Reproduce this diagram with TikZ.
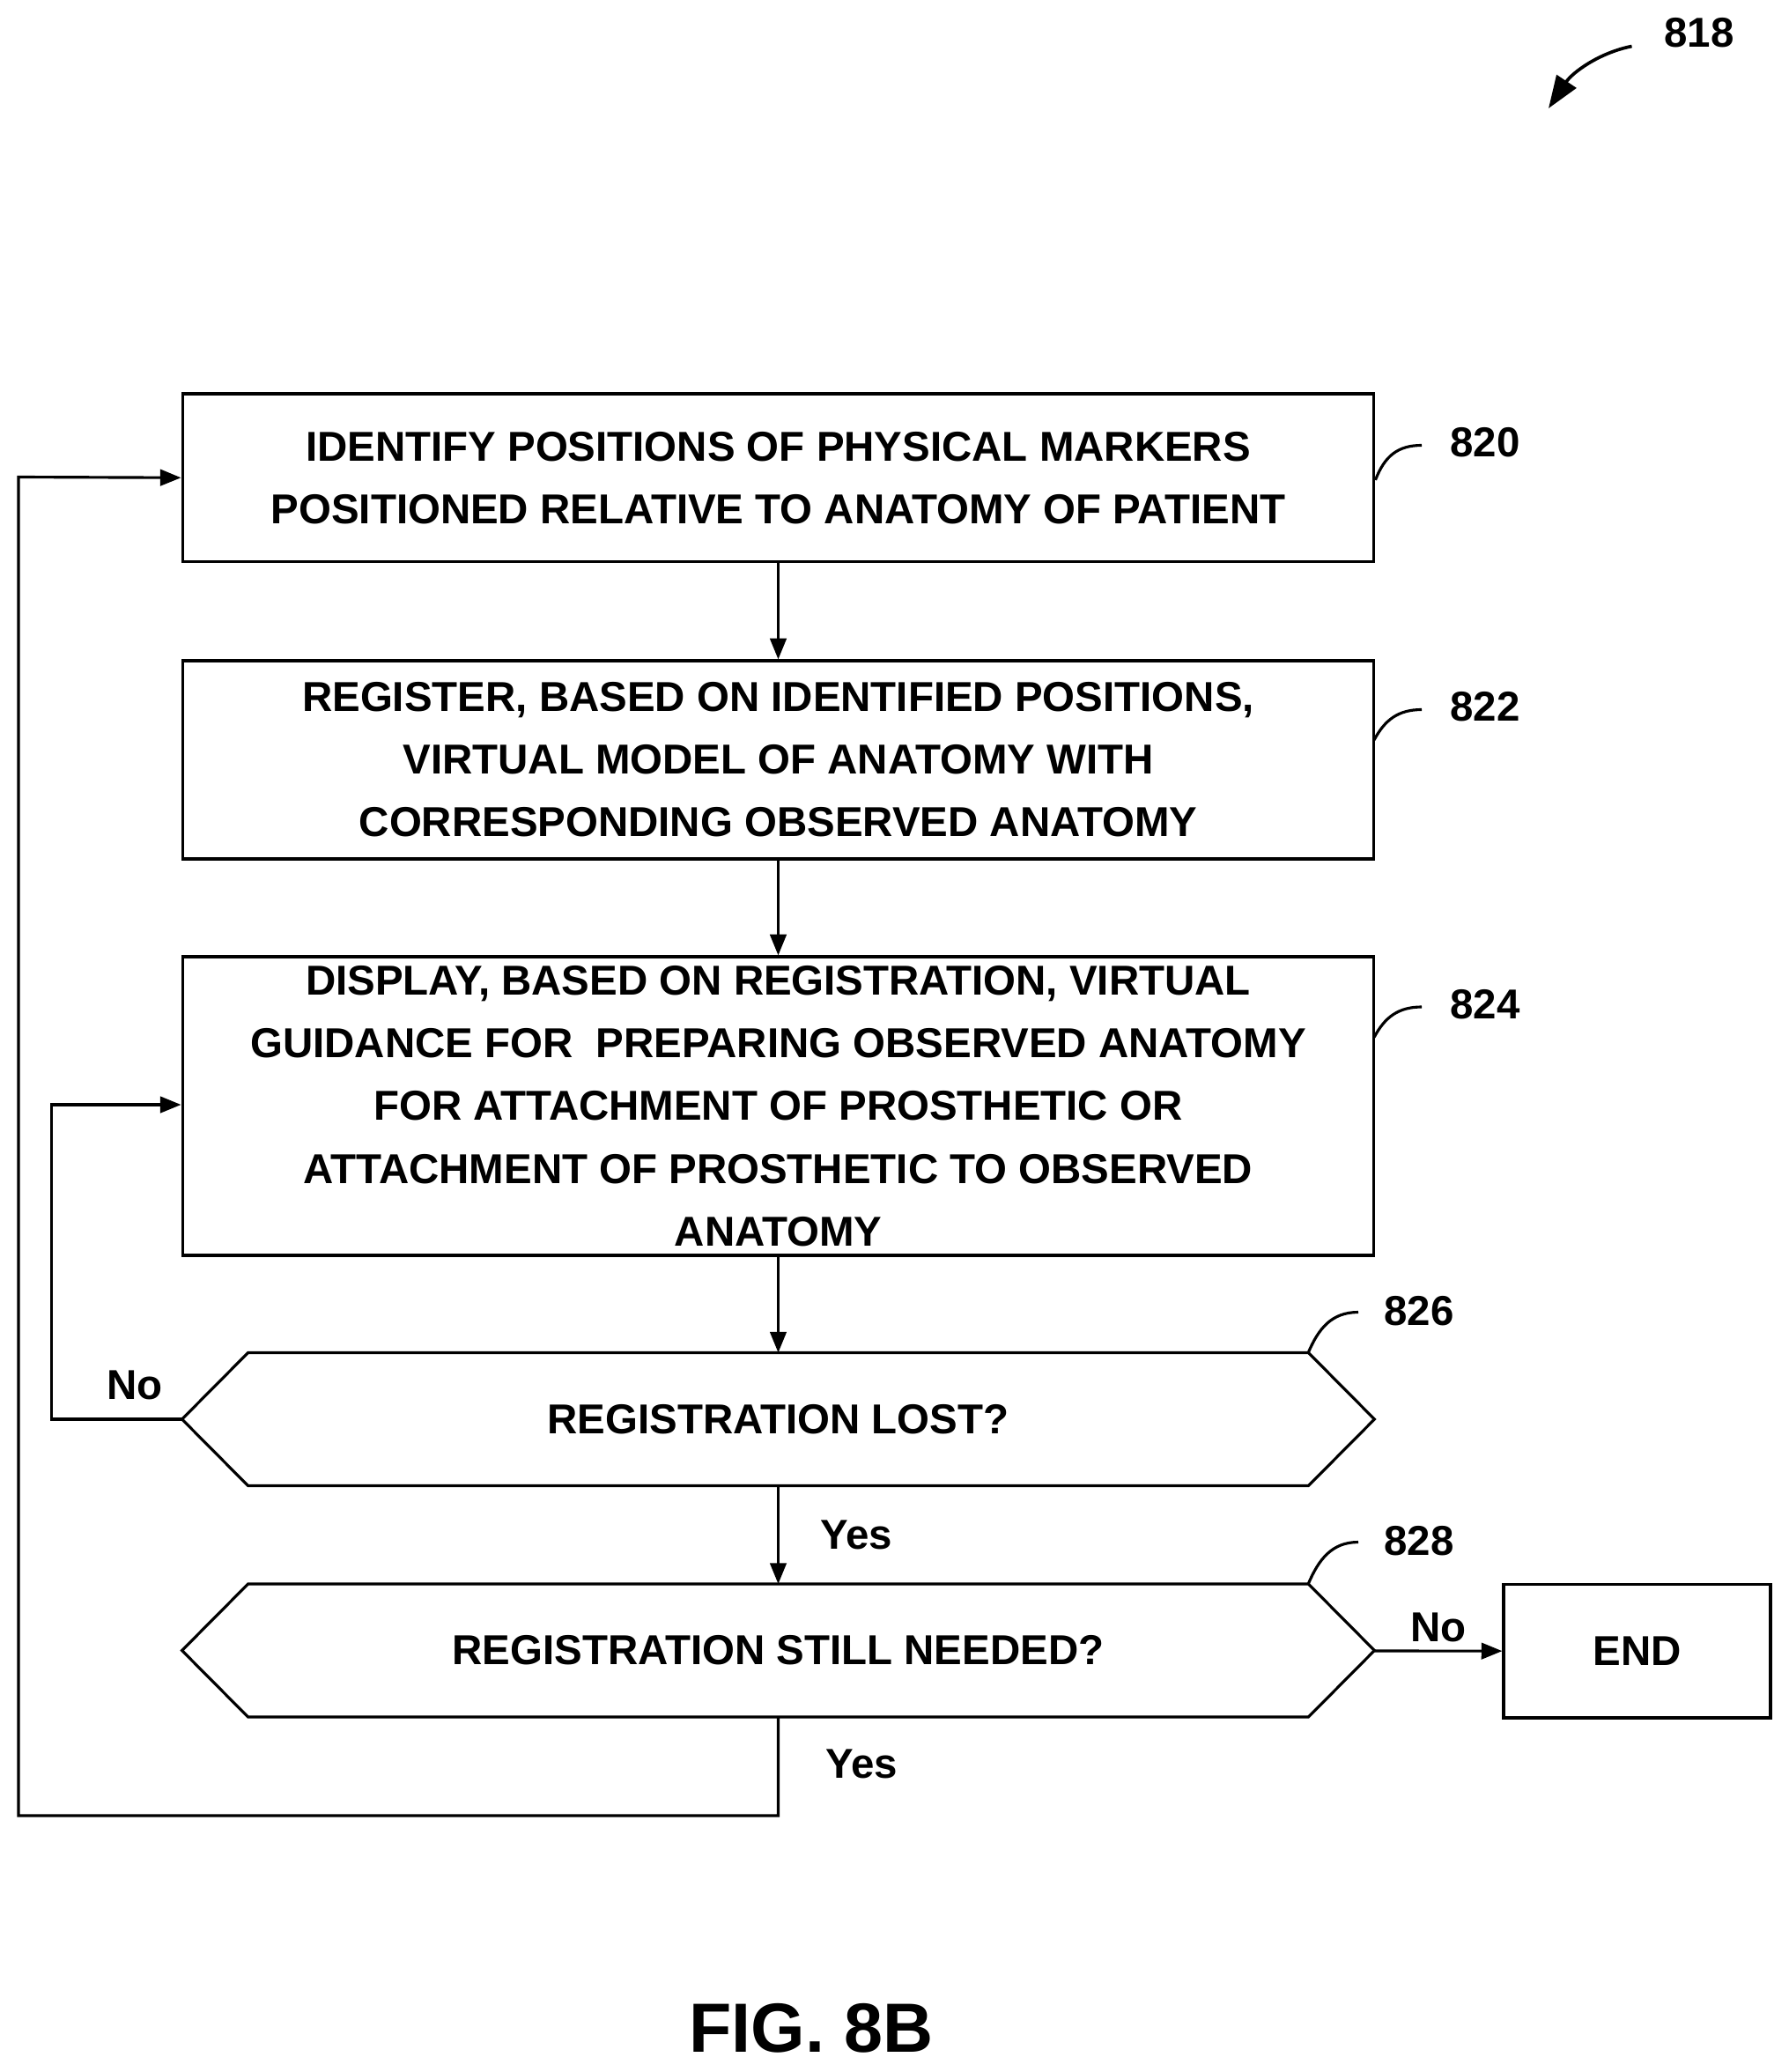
\documentclass[tikz,border=0pt]{standalone}
\usepackage{fontspec}
\setmainfont{Liberation Sans}
\usetikzlibrary{positioning,arrows.meta}
\tikzset{
  procbox/.style={draw, line width=1.2pt, minimum width=18.04cm, align=center, font=\bfseries\fontsize{18}{27}\selectfont},
  hexa/.style={minimum width=18.04cm, minimum height=2cm, font=\bfseries\fontsize{18}{27}\selectfont},
  flow/.style={line width=1.2pt, -{Triangle[length=9pt,width=7pt]}},
  lead/.style={line width=1.2pt},
  ref/.style={font=\bfseries\fontsize{18}{22}\selectfont},
}
\newcommand{\hexpath}[1]{\draw[line width=1.2pt] (#1.west) -- ([xshift=1cm]#1.north west) -- ([xshift=-1cm]#1.north east) -- (#1.east) -- ([xshift=-1cm]#1.south east) -- ([xshift=1cm]#1.south west) -- cycle;}
\begin{document}
\begin{tikzpicture}[x=0.02cm,y=-0.02cm]
\useasboundingbox (0,0) rectangle (1354,1568);
% steps
\node[procbox, minimum height=2.54cm] (s820) at (589,361.5) {IDENTIFY POSITIONS OF PHYSICAL MARKERS\\POSITIONED RELATIVE TO ANATOMY OF PATIENT};
\node[procbox, minimum height=3cm] (s822) at (589,575) {REGISTER, BASED ON IDENTIFIED POSITIONS,\\VIRTUAL MODEL OF ANATOMY WITH\\CORRESPONDING OBSERVED ANATOMY};
\node[procbox, minimum height=4.52cm] (s824) at (589,837) {DISPLAY, BASED ON REGISTRATION, VIRTUAL\\GUIDANCE FOR\ \ PREPARING OBSERVED ANATOMY\\FOR ATTACHMENT OF PROSTHETIC OR\\ATTACHMENT OF PROSTHETIC TO OBSERVED\\ANATOMY};
\node[hexa] (d826) at (589,1074) {REGISTRATION LOST?};
\hexpath{d826}
\node[hexa] (d828) at (589,1249) {REGISTRATION STILL NEEDED?};
\hexpath{d828}
\node[procbox, minimum width=4.04cm, minimum height=2.02cm] (end) at (1239,1249.5) {END};
% connectors
\draw[flow] (s820) -- (s822);
\draw[flow] (s822) -- (s824);
\draw[flow] (s824) -- (d826);
\draw[flow] (d826) -- node[right=0.5cm, ref]{Yes} (d828);
\draw[flow] (d828) -- node[above, ref]{No} (end);
\coordinate (c1) at (39,1074);
\coordinate (c2) at (39,836);
\draw[flow] (d826.west) -- (c1) -- (c2) -- (c2 -| s824.west);
\node[ref] (no1) at (102,1048) {No};
\coordinate (c3) at (589,1374);
\coordinate (c4) at (14,1374);
\coordinate (c5) at (14,361);
\draw[flow] (d828.south) -- (c3) -- (c4) -- (c5) -- (s820.west);
\node[ref] (yes2) at (652,1335) {Yes};
% reference numerals
\node[ref] (r820) at (1124,335) {820};
\draw[lead] ([yshift=-1pt]s820.east) .. controls (1048,345) and (1058,337) .. (1076,337);
\node[ref] (r822) at (1124,535) {822};
\draw[lead] (1040,560) .. controls (1048,545) and (1058,537) .. (1076,537);
\node[ref] (r824) at (1124,760) {824};
\draw[lead] (1040,785) .. controls (1048,770) and (1058,762) .. (1076,762);
\node[ref] (r826) at (1074,992) {826};
\draw[lead] (990,1024) .. controls (998,1005) and (1008,993) .. (1028,993);
\node[ref] (r828) at (1074,1166) {828};
\draw[lead] (990,1199) .. controls (998,1180) and (1008,1167) .. (1028,1167);
\node[ref] (r818) at (1286,25) {818};
\coordinate (a818) at (1172,82);
\draw[line width=1.4pt, -{Triangle[length=14pt,width=10pt]}] (1235,35) .. controls (1210,40) and (1190,55) .. (a818);
\node[font=\bfseries\fontsize{30}{36}\selectfont] (fig) at (614,1535) {FIG. 8B};
\end{tikzpicture}
\end{document}
